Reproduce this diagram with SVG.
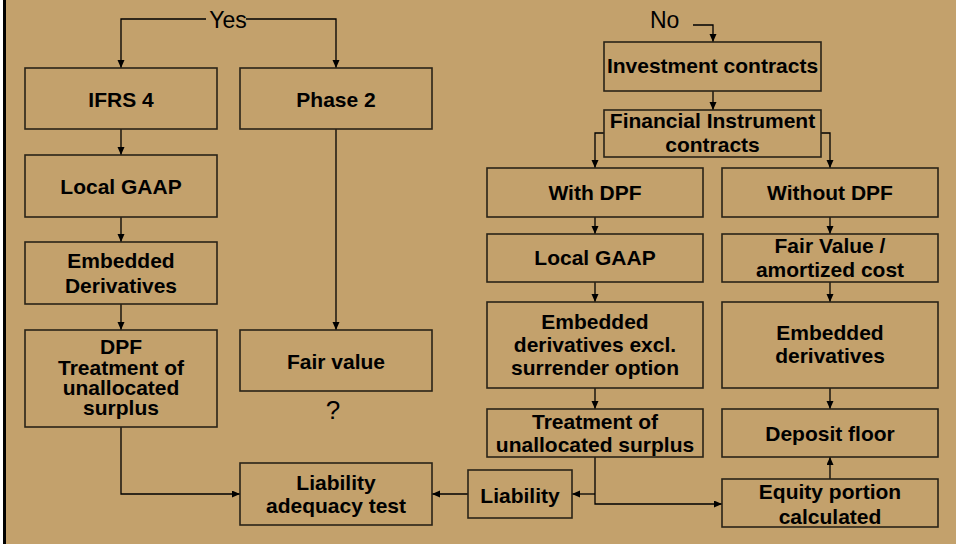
<svg xmlns="http://www.w3.org/2000/svg" width="956" height="544" viewBox="0 0 956 544">
<defs>
<marker id="ah" markerWidth="8" markerHeight="8" refX="8" refY="3.5" orient="auto" markerUnits="userSpaceOnUse">
<path d="M0,0 L8,3.5 L0,7 z" fill="#000"/>
</marker>
<style>
.box{fill:none;stroke:#2a2418;stroke-width:1.6}
.t{font-family:"Liberation Sans",Arial,sans-serif;font-weight:bold;font-size:21px;fill:#000;text-anchor:middle}
.n{font-family:"Liberation Sans",Arial,sans-serif;font-size:23px;fill:#000}
.c{fill:none;stroke:#000;stroke-width:1.3}
.a{marker-end:url(#ah)}
</style>
</defs>
<rect x="0" y="0" width="956" height="544" fill="#C3A16C"/>
<rect x="0" y="0" width="3" height="544" fill="#fff"/>
<rect x="3" y="0" width="3" height="544" fill="#000"/>

<g id="connectors">
<path class="c a" d="M206,19 H121 V68"/>
<path class="c a" d="M246,19 H336 V68"/>
<path class="c a" d="M121,129 V155"/>
<path class="c a" d="M121,217 V242"/>
<path class="c a" d="M121,304 V330"/>
<path class="c a" d="M336,129 V330"/>
<path class="c a" d="M121,427 V494 H240"/>
<path class="c a" d="M693,25 H713 V42"/>
<path class="c a" d="M713,91 V110"/>
<path class="c a" d="M604,133 H595 V168"/>
<path class="c a" d="M821,133 H830 V168"/>
<path class="c a" d="M595,217 V234"/>
<path class="c a" d="M595,282 V302"/>
<path class="c a" d="M595,388 V409"/>
<path class="c a" d="M830,217 V234"/>
<path class="c a" d="M830,282 V302"/>
<path class="c a" d="M830,388 V409"/>
<path class="c a" d="M595,457 V504 H722"/>
<path class="c a" d="M595,494 H572"/>
<path class="c a" d="M468,494 H432"/>
<path class="c a" d="M830,479 V457"/>
</g>

<g id="yes"><text class="n" x="228" y="28" text-anchor="middle">Yes</text></g>
<g id="no"><text class="n" x="650" y="28">No</text></g>

<g id="ifrs4"><rect class="box" x="25" y="68" width="192" height="61"/><text class="t" x="121" y="107">IFRS 4</text></g>
<g id="phase2"><rect class="box" x="240" y="68" width="192" height="61"/><text class="t" x="336" y="107">Phase 2</text></g>
<g id="localgaap-left"><rect class="box" x="25" y="155" width="192" height="62"/><text class="t" x="121" y="194">Local GAAP</text></g>
<g id="embedded-left"><rect class="box" x="25" y="242" width="192" height="62"/><text class="t" x="121" y="268">Embedded</text><text class="t" x="121" y="293">Derivatives</text></g>
<g id="dpf"><rect class="box" x="25" y="330" width="192" height="97"/><text class="t" x="121" y="354">DPF</text><text class="t" x="121" y="375">Treatment of</text><text class="t" x="121" y="395">unallocated</text><text class="t" x="121" y="415">surplus</text></g>
<g id="fairvalue"><rect class="box" x="240" y="330" width="192" height="61"/><text class="t" x="336" y="369">Fair value</text></g>
<g id="question"><text class="n" x="333" y="419" text-anchor="middle" style="font-size:26px">?</text></g>
<g id="lat"><rect class="box" x="240" y="463" width="192" height="62"/><text class="t" x="336" y="490">Liability</text><text class="t" x="336" y="513">adequacy test</text></g>

<g id="investment"><rect class="box" x="604" y="42" width="217" height="49"/><text class="t" x="712.5" y="73">Investment contracts</text></g>
<g id="financial"><rect class="box" x="604" y="110" width="217" height="47"/><text class="t" x="712.5" y="128">Financial Instrument</text><text class="t" x="712.5" y="151.5">contracts</text></g>
<g id="withdpf"><rect class="box" x="487" y="168" width="216" height="49"/><text class="t" x="595" y="200">With DPF</text></g>
<g id="withoutdpf"><rect class="box" x="722" y="168" width="216" height="49"/><text class="t" x="830" y="200">Without DPF</text></g>
<g id="localgaap-right"><rect class="box" x="487" y="234" width="216" height="48"/><text class="t" x="595" y="265">Local GAAP</text></g>
<g id="fv-amortized"><rect class="box" x="722" y="234" width="216" height="48"/><text class="t" x="830" y="253">Fair Value /</text><text class="t" x="830" y="276.5">amortized cost</text></g>
<g id="embedded-excl"><rect class="box" x="487" y="302" width="216" height="86"/><text class="t" x="595" y="329">Embedded</text><text class="t" x="595" y="352">derivatives excl.</text><text class="t" x="595" y="375">surrender option</text></g>
<g id="embedded-right"><rect class="box" x="722" y="302" width="216" height="86"/><text class="t" x="830" y="340">Embedded</text><text class="t" x="830" y="362.5">derivatives</text></g>
<g id="treatment"><rect class="box" x="487" y="409" width="216" height="48"/><text class="t" x="595" y="428.5">Treatment of</text><text class="t" x="595" y="451.5">unallocated surplus</text></g>
<g id="deposit"><rect class="box" x="722" y="409" width="216" height="48"/><text class="t" x="830" y="440.5">Deposit floor</text></g>
<g id="equity"><rect class="box" x="722" y="479" width="216" height="48"/><text class="t" x="830" y="499">Equity portion</text><text class="t" x="830" y="524">calculated</text></g>
<g id="liability"><rect class="box" x="468" y="470" width="104" height="48"/><text class="t" x="520" y="502.5">Liability</text></g>
</svg>
